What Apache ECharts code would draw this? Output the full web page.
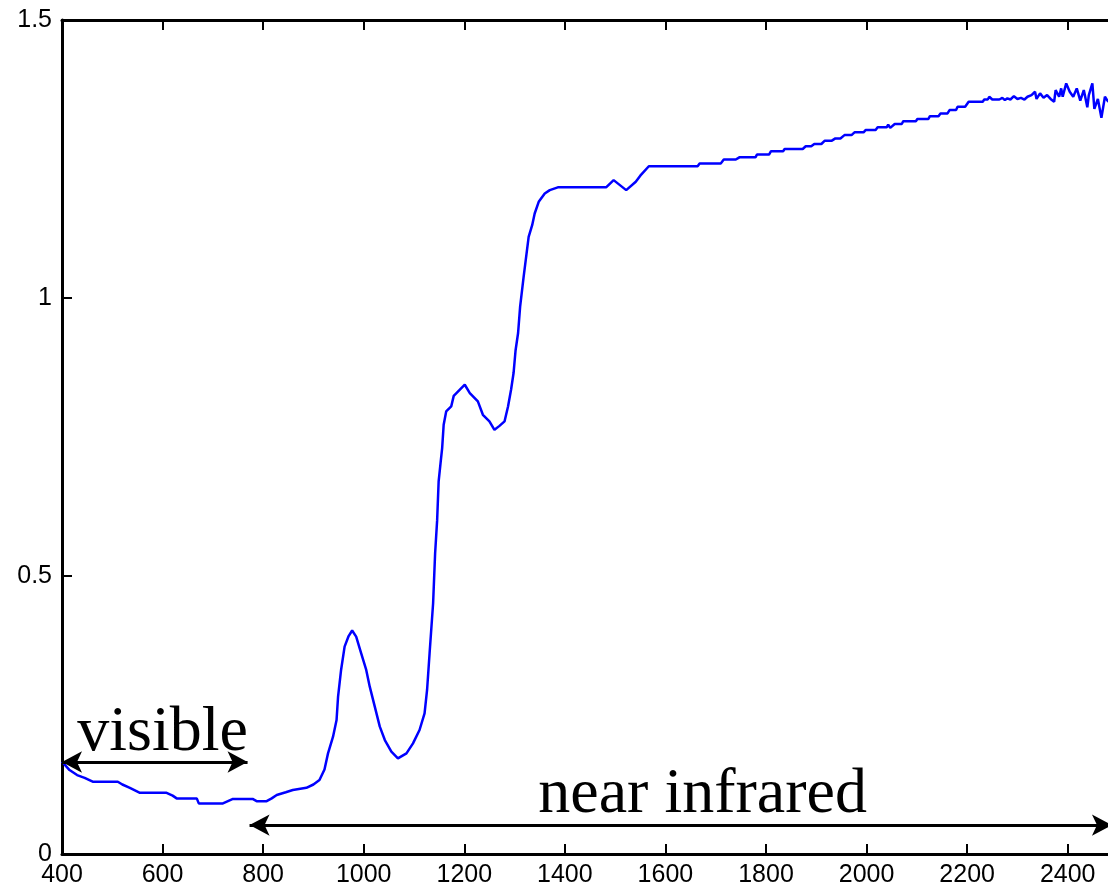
<!DOCTYPE html>
<html>
<head>
<meta charset="utf-8">
<script src="https://cdn.jsdelivr.net/npm/echarts@6/dist/echarts.min.js"></script>
<style>
  html, body { margin: 0; padding: 0; background: #ffffff; overflow: hidden; }
  #chart { width: 1108px; height: 894px; }
</style>
</head>
<body>
<div id="chart"></div>
<script>
// Reflectance spectrum, wavelength in nm
const wavelength = [
  400, 415, 430, 445, 461, 511, 520, 535, 555, 608, 620, 628, 668, 672, 720, 730, 740, 779, 787, 807,
  817, 827, 845, 859, 886, 900, 912, 922, 929, 939, 946, 949, 955, 962, 970, 977, 985, 995, 1005, 1012,
  1022, 1032, 1042, 1055, 1068, 1085, 1098, 1111, 1121, 1126, 1131, 1138, 1142, 1146, 1149, 1153, 1156, 1159, 1164, 1174,
  1179, 1201, 1211, 1227, 1237, 1250, 1260, 1270, 1280, 1287, 1293, 1298, 1302, 1307, 1311, 1318, 1323, 1328, 1335, 1340,
  1348, 1360, 1370, 1386, 1482, 1497, 1522, 1541, 1550, 1567, 1664, 1668, 1710, 1716, 1740, 1747, 1779, 1782, 1806, 1810,
  1834, 1837, 1873, 1879, 1890, 1896, 1910, 1917, 1931, 1938, 1948, 1956, 1970, 1976, 1994, 1998, 2018, 2022, 2040, 2043,
  2047, 2056, 2070, 2073, 2098, 2101, 2123, 2126, 2143, 2147, 2161, 2165, 2178, 2181, 2196, 2203, 2231, 2234, 2241, 2244,
  2250, 2264, 2270, 2275, 2280, 2286, 2293, 2300, 2307, 2314, 2320, 2328, 2335, 2338, 2345, 2352, 2359, 2366, 2373, 2376,
  2383, 2387, 2390, 2397, 2404, 2411, 2418, 2425, 2432, 2439, 2442, 2449, 2453, 2460, 2467, 2474, 2479, 2485
];
const reflectance = [
  0.166, 0.151, 0.142, 0.137, 0.130, 0.130, 0.125, 0.119, 0.110, 0.110, 0.105, 0.100, 0.100, 0.091, 0.091, 0.095, 0.099, 0.099, 0.095, 0.095,
  0.100, 0.106, 0.111, 0.115, 0.119, 0.125, 0.133, 0.152, 0.181, 0.211, 0.241, 0.283, 0.331, 0.373, 0.392, 0.402, 0.391, 0.361, 0.331, 0.301,
  0.265, 0.229, 0.205, 0.184, 0.172, 0.181, 0.199, 0.223, 0.253, 0.295, 0.361, 0.451, 0.541, 0.600, 0.670, 0.705, 0.730, 0.772, 0.796, 0.805,
  0.824, 0.844, 0.829, 0.814, 0.790, 0.778, 0.763, 0.770, 0.778, 0.805, 0.835, 0.865, 0.906, 0.937, 0.984, 1.038, 1.074, 1.110, 1.131, 1.152,
  1.173, 1.188, 1.194, 1.199, 1.199, 1.212, 1.194, 1.209, 1.220, 1.237, 1.237, 1.242, 1.242, 1.249, 1.249, 1.253, 1.253, 1.258, 1.258, 1.264,
  1.264, 1.268, 1.268, 1.273, 1.273, 1.277, 1.277, 1.283, 1.283, 1.287, 1.287, 1.293, 1.293, 1.298, 1.298, 1.302, 1.302, 1.307, 1.307, 1.312,
  1.306, 1.313, 1.313, 1.318, 1.318, 1.322, 1.322, 1.327, 1.327, 1.332, 1.332, 1.338, 1.338, 1.344, 1.344, 1.353, 1.353, 1.357, 1.357, 1.362,
  1.357, 1.357, 1.360, 1.356, 1.359, 1.357, 1.363, 1.358, 1.360, 1.357, 1.362, 1.365, 1.371, 1.358, 1.368, 1.360, 1.365, 1.358, 1.353, 1.374,
  1.362, 1.377, 1.362, 1.386, 1.371, 1.362, 1.377, 1.355, 1.374, 1.343, 1.365, 1.386, 1.340, 1.358, 1.324, 1.362, 1.355, 1.350
];

// Spectral region annotations: [start nm, end nm, arrow level]
const visibleSpan = [400, 769, 0.1655];
const nirSpan = [773, 2488, 0.052];
// Annotation labels: [text, centre nm, centre level]
const visibleLabel = ['visible', 600, 0.217];
const nirLabel = ['near infrared', 1674, 0.106];

const points = wavelength.map((w, i) => [w, reflectance[i]]);

const axisLineStyle = { color: '#000000', width: 3 };
const tickStyle = { show: true, inside: true, length: 10, lineStyle: { color: '#000000', width: 2 } };
const labelFont = { color: '#000000', fontSize: 25, fontFamily: 'Liberation Sans, Arial, sans-serif' };

const chart = echarts.init(document.getElementById('chart'), null, { renderer: 'canvas' });
chart.setOption({
  animation: false,
  backgroundColor: '#ffffff',
  // the frame runs to 2500 nm, a little past the right edge of the canvas
  grid: { left: 62, top: 20, width: 1056, bottom: 40, containLabel: false, outerBoundsMode: 'none' },
  xAxis: [
    {
      type: 'value', min: 400, max: 2500, interval: 200, position: 'bottom',
      axisLine: { show: true, onZero: false, lineStyle: axisLineStyle },
      axisTick: tickStyle,
      splitLine: { show: false },
      axisLabel: Object.assign({ margin: 9, formatter: v => (v > 2400 ? '' : String(v)) }, labelFont)
    },
    {
      type: 'value', min: 400, max: 2500, interval: 200, position: 'top',
      axisLine: { show: true, onZero: false, lineStyle: axisLineStyle },
      axisTick: tickStyle,
      splitLine: { show: false },
      axisLabel: { show: false }
    }
  ],
  yAxis: [
    {
      type: 'value', min: 0, max: 1.5, interval: 0.5, position: 'left',
      axisLine: { show: true, onZero: false, lineStyle: axisLineStyle },
      axisTick: tickStyle,
      splitLine: { show: false },
      axisLabel: Object.assign({ margin: 10 }, labelFont)
    },
    {
      type: 'value', min: 0, max: 1.5, interval: 0.5, position: 'right',
      axisLine: { show: true, onZero: false, lineStyle: axisLineStyle },
      axisTick: tickStyle,
      splitLine: { show: false },
      axisLabel: { show: false }
    }
  ],
  series: [
    {
      type: 'line',
      data: points,
      showSymbol: false,
      symbol: 'none',
      lineStyle: { color: '#0000ff', width: 2.5 },
      silent: true,
      markLine: {
        silent: true,
        symbol: ['arrow', 'arrow'],
        symbolSize: [16, 20],
        lineStyle: { color: '#000000', width: 3, type: 'solid' },
        itemStyle: { color: '#000000' },
        label: { show: false },
        data: [
          [{ coord: [visibleSpan[0], visibleSpan[2]] }, { coord: [visibleSpan[1], visibleSpan[2]] }],
          [{ coord: [nirSpan[0], nirSpan[2]] }, { coord: [nirSpan[1], nirSpan[2]] }]
        ]
      },
      markPoint: {
        silent: true,
        symbol: 'circle',
        symbolSize: 0,
        label: {
          show: true,
          position: 'inside',
          formatter: p => p.name,
          color: '#000000',
          fontSize: 64,
          fontFamily: 'Liberation Serif, Times New Roman, serif'
        },
        data: [
          { name: visibleLabel[0], coord: [visibleLabel[1], visibleLabel[2]] },
          { name: nirLabel[0], coord: [nirLabel[1], nirLabel[2]] }
        ]
      }
    }
  ]
});
</script>
</body>
</html>
